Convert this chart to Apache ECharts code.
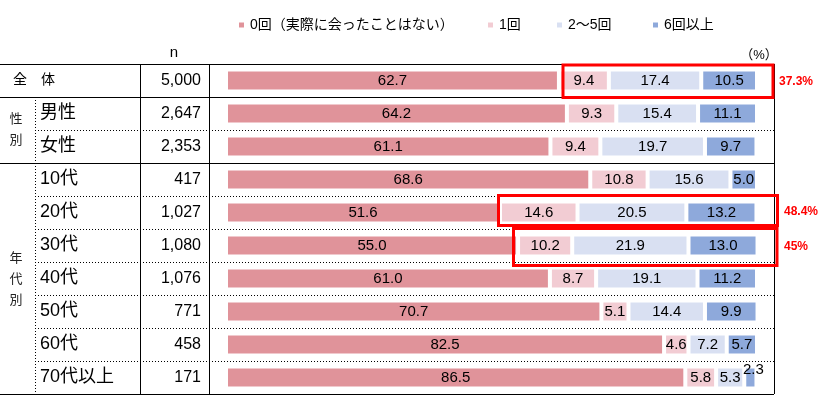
<!DOCTYPE html>
<html>
<head>
    <meta charset="utf-8" />
    <title>会った回数</title>
    <script src="https://cdn.jsdelivr.net/npm/echarts@6/dist/echarts.min.js"></script>
    <style>
        html, body { margin: 0; padding: 0; background: #fff; }
        #chart { width: 824px; height: 397px; }
    </style>
</head>
<body>
    <div id="chart"></div>
    <script type="text/javascript">
        // 行ラベルとn数
        const categories = ['全　体', '男性', '女性', '10代', '20代', '30代', '40代', '50代', '60代', '70代以上'];
        const nValues = ['5,000', '2,647', '2,353', '417', '1,027', '1,080', '1,076', '771', '458', '171'];
        // 系列名
        const seriesNames = ['0回（実際に会ったことはない）', '1回', '2～5回', '6回以上'];
        // 各系列の値（%）
        const zero = [62.7, 64.2, 61.1, 68.6, 51.6, 55.0, 61.0, 70.7, 82.5, 86.5];
        const once = [9.4, 9.3, 9.4, 10.8, 14.6, 10.2, 8.7, 5.1, 4.6, 5.8];
        const twoToFive = [17.4, 15.4, 19.7, 15.6, 20.5, 21.9, 19.1, 14.4, 7.2, 5.3];
        const sixPlus = [10.5, 11.1, 9.7, 5.0, 13.2, 13.0, 11.2, 9.9, 5.7, 2.3];
        const colors = ['#E0939A', '#F2CCD3', '#D9E0F2', '#8EA9DB'];
        // 凡例の位置
        const legendLeft = [237, 486, 555, 651];
        // 赤枠の注記
        const callouts = [
            { x: 563, y: 65, w: 210, h: 32.5, text: '37.3%', tx: 779, ty: 82 },
            { x: 498.5, y: 195.5, w: 279, h: 30, text: '48.4%', tx: 784, ty: 212 },
            { x: 513.5, y: 228.5, w: 263.5, h: 37, text: '45%', tx: 784, ty: 247 }
        ];
        // グループ見出し
        const groups = [
            { text: '性\n別', y: 130 },
            { text: '年\n代\n別', y: 279 }
        ];

        const FONT = "'Liberation Sans', 'Noto Sans CJK JP', sans-serif";
        const gridLeft = 226, gridTop = 64, rowH = 33, tableRight = 774;
        const tableBottom = gridTop + rowH * categories.length;

        const chart = echarts.init(document.getElementById('chart'));

        const allData = [zero, once, twoToFive, sixPlus];
        const series = allData.map(function (vals, si) {
            return {
                name: seriesNames[si],
                type: 'bar',
                stack: 'total',
                barWidth: 22,
                itemStyle: { color: colors[si], borderColor: '#fff', borderWidth: 2 },
                label: {
                    show: true,
                    position: 'inside',
                    color: '#000',
                    fontSize: 15,
                    fontFamily: FONT,
                    formatter: function (p) { return p.value.toFixed(1); }
                },
                data: vals.map(function (v) {
                    if (v < 3) {
                        return { value: v, label: { offset: [3, -8] } };
                    }
                    return v;
                })
            };
        });

        // 表の罫線
        const graphic = [];
        function hline(y, x1, dotted) {
            graphic.push({
                type: 'line', silent: true,
                shape: { x1: x1, y1: y + 0.5, x2: tableRight, y2: y + 0.5 },
                style: { stroke: '#000', lineWidth: 1, lineDash: dotted ? [1, 2] : null }
            });
        }
        function vline(x, y1, y2, dotted) {
            graphic.push({
                type: 'line', silent: true,
                shape: { x1: x + 0.5, y1: y1, x2: x + 0.5, y2: y2 },
                style: { stroke: '#000', lineWidth: 1, lineDash: dotted ? [1, 2] : null }
            });
        }
        for (let k = 0; k <= categories.length; k++) {
            const y = gridTop + rowH * k;
            if (k === 0 || k === 1 || k === 3 || k === categories.length) {
                hline(y, 0, false);
            } else {
                hline(y, 35, true);
            }
        }
        vline(140, gridTop, tableBottom, false);
        vline(209, gridTop, tableBottom, false);
        vline(35, gridTop + rowH, tableBottom, true);
        vline(tableRight, gridTop, tableBottom, false);

        groups.forEach(function (g) {
            graphic.push({
                type: 'text', silent: true, x: 16, y: g.y,
                style: {
                    text: g.text, fill: '#222', font: '13px ' + FONT,
                    align: 'center', verticalAlign: 'middle', lineHeight: 21
                }
            });
        });

        graphic.push({
            type: 'text', silent: true, x: 174, y: 53,
            style: { text: 'n', fill: '#000', font: '15px ' + FONT, align: 'center', verticalAlign: 'middle' }
        });
        graphic.push({
            type: 'text', silent: true, x: 759, y: 55,
            style: { text: '（%）', fill: '#000', font: '13px ' + FONT, align: 'center', verticalAlign: 'middle' }
        });

        callouts.forEach(function (c) {
            graphic.push({
                type: 'rect', silent: true, z: 100,
                shape: { x: c.x, y: c.y, width: c.w, height: c.h },
                style: { fill: null, stroke: '#FF0000', lineWidth: 3 }
            });
            graphic.push({
                type: 'text', silent: true, x: c.tx, y: c.ty, z: 100,
                style: {
                    text: c.text, fill: '#FF0000', font: 'bold 12px ' + FONT,
                    align: 'left', verticalAlign: 'middle'
                }
            });
        });

        // 凡例は項目ごとに配置
        const legends = seriesNames.map(function (name, i) {
            return {
                left: legendLeft[i],
                top: 18,
                padding: 0,
                icon: 'rect',
                itemWidth: 7,
                itemHeight: 7,
                textStyle: { color: '#000', fontSize: 14, fontFamily: FONT },
                data: [name]
            };
        });

        const option = {
            backgroundColor: '#fff',
            animation: false,
            color: colors,
            legend: legends,
            grid: { left: gridLeft, right: 67, top: gridTop, bottom: 397 - tableBottom },
            xAxis: {
                type: 'value', min: 0, max: 100, show: false
            },
            yAxis: [{
                type: 'category',
                inverse: true,
                data: categories,
                axisLine: { show: false },
                axisTick: { show: false },
                axisLabel: {
                    align: 'left',
                    margin: gridLeft - 13,
                    formatter: function (v, i) {
                        return i === 0 ? '{a|' + v + '}' : '{b|' + v + '}';
                    },
                    rich: {
                        a: { fontSize: 14, color: '#000', fontFamily: FONT },
                        b: { fontSize: 18, color: '#000', fontFamily: FONT, padding: [0, 0, 0, 27] }
                    }
                }
            }, {
                type: 'category',
                position: 'left',
                inverse: true,
                data: nValues,
                axisLine: { show: false },
                axisTick: { show: false },
                axisLabel: {
                    align: 'right',
                    margin: gridLeft - 201,
                    color: '#000',
                    fontSize: 16,
                    fontFamily: FONT
                }
            }],
            graphic: graphic,
            series: series
        };
        chart.setOption(option);
    </script>
</body>
</html>
